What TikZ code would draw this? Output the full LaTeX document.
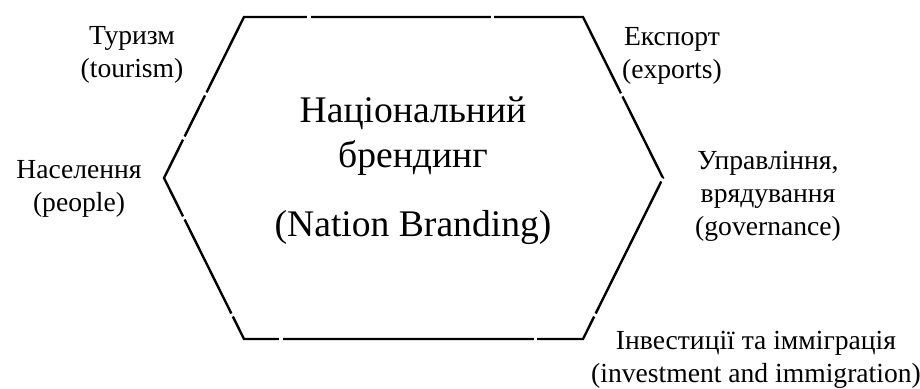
\documentclass[tikz,border=0pt]{standalone}
\usepackage{fontspec}
\setmainfont{Liberation Serif}
\usepackage{tikz}
\usetikzlibrary{calc}

\tikzset{
  label/.style={align=center, anchor=base, inner sep=0pt, font=\fontsize{13.8pt}{16.5pt}\selectfont},
  title/.style={align=center, anchor=base, inner sep=0pt, font=\fontsize{18.8pt}{22.5pt}\selectfont},
  hexline/.style={line width=1.2pt, line join=miter},
  gapmark/.style={fill=white, inner sep=0pt, minimum width=1.6pt, minimum height=3pt, sloped}
}

\begin{document}
\begin{tikzpicture}[x=0.5pt, y=-0.5pt]
  \useasboundingbox (0,0) rectangle (920,389);
  \coordinate (tl) at (244,17);
  \coordinate (tr) at (583,17);
  \coordinate (r) at (663,178);
  \coordinate (br) at (583,339);
  \coordinate (bl) at (244,339);
  \coordinate (l) at (164,178);
  \draw[hexline] (tl) -- (tr) -- (r) -- (br) -- (bl) -- (l) -- cycle;
  \foreach \a/\b/\t [count=\i] in {tl/tr/0.192, tl/tr/0.732, l/tl/0.248, l/tl/0.522,
      l/bl/0.248, l/bl/0.851, bl/br/0.109, bl/br/0.861, r/br/0.851, r/br/0.012, tr/r/0.484}
    \path (\a) -- (\b) node[gapmark, pos=\t] (g\i) {};

  \node[title] (brand) at (413,237) {Національний\\брендинг\\[12pt](Nation Branding)};
  \node[label] (tourism) at (132,78) {Туризм\\(tourism)};
  \node[label] (people) at (79,212) {Населення\\(people)};
  \node[label] (exports) at (672,79) {Експорт\\(exports)};
  \node[label] (governance) at (768,236) {Управління,\\врядування\\(governance)};
  \node[label] (invest) at (756,382) {Інвестиції та імміграція\\(investment and immigration)};
\end{tikzpicture}
\end{document}
